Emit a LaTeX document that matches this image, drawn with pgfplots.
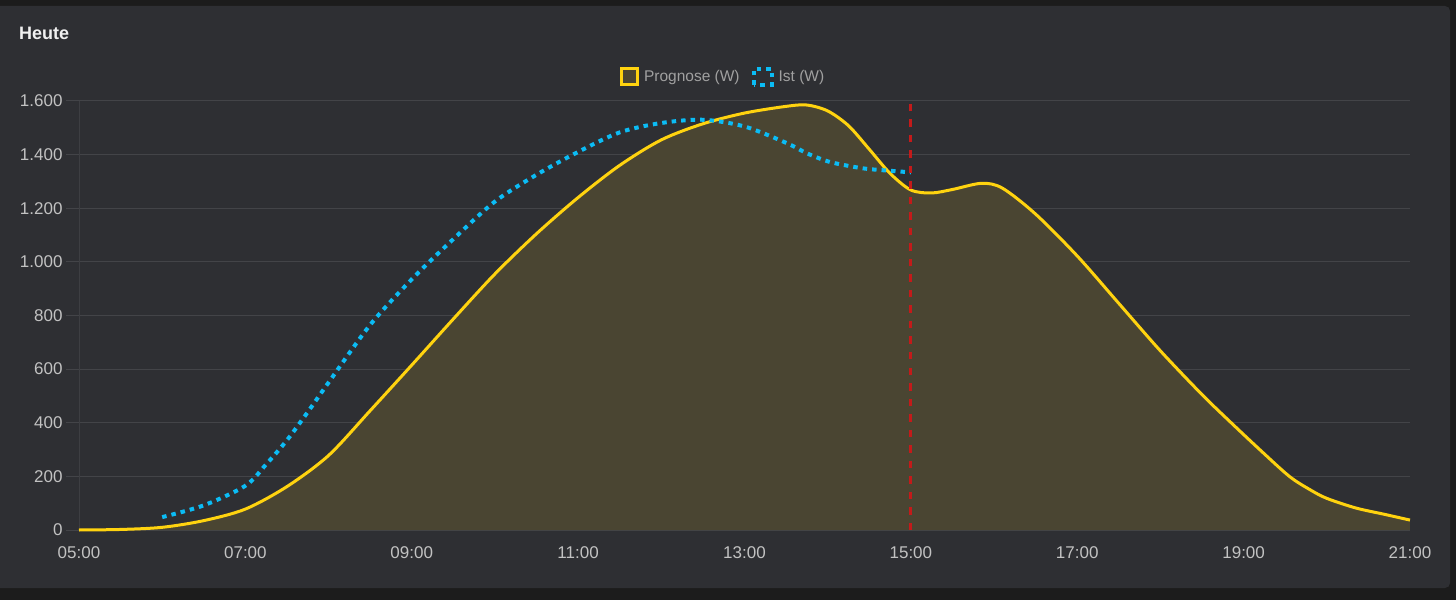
\documentclass[border=0pt]{standalone}
\usepackage{fontspec}
\setmainfont{Liberation Sans}
\usepackage{pgfplots}
\pgfplotsset{compat=1.18}
\usepackage{pgfplotstable}
\definecolor{outerc}{HTML}{1C1C1C}
\definecolor{panelc}{HTML}{2E2F33}
\definecolor{gridc}{HTML}{434448}
\definecolor{fillc}{HTML}{4A4532}
\definecolor{yellowc}{HTML}{FFD30F}
\definecolor{bluec}{HTML}{0BBCF5}
\definecolor{redc}{HTML}{C41A1A}
\definecolor{tickc}{HTML}{C2C2C2}
\definecolor{legc}{HTML}{A0A0A0}
\definecolor{titlec}{HTML}{F0F0F0}

\pgfplotstableread{
h v
5 0
5.5 2
6 10
6.5 35
7 78
7.5 162
8 278
8.5 445
9 615
9.5 787
10 955
10.5 1105
11 1240
11.5 1360
12 1455
12.5 1515
13 1555
13.5 1580
13.75 1585
14 1563
14.25 1508
14.5 1420
14.75 1330
15 1268
15.25 1257
15.5 1270
15.85 1293
16.1 1275
16.5 1178
17 1022
17.5 845
18 668
18.5 505
18.85 400
19.2 298
19.55 200
19.8 150
20 118
20.35 82
20.7 58
21 37
}\prognose

\pgfplotstableread{
h v
6 48
6.5 92
7 165
7.25 245
7.5 335
7.75 440
8 550
8.5 765
9 935
9.5 1085
10 1225
10.5 1325
11 1410
11.5 1483
12 1518
12.5 1530
13 1505
13.5 1444
13.75 1405
14 1375
14.25 1358
14.5 1346
15 1334
}\ist

\begin{document}
\begin{tikzpicture}[x=1pt,y=1pt]
\useasboundingbox (0,0) rectangle (1456,600);
\fill[outerc] (0,0) rectangle (1456,600);
\fill[panelc, rounded corners=5pt] (-10,12) rectangle (1450,594);
\node[anchor=base west, font=\fontsize{18}{20}\selectfont\bfseries, text=titlec, inner sep=0pt] at (19,560) {Heute};
\begin{axis}[
  at={(79pt,70pt)}, anchor=south west, scale only axis,
  width=1331pt, height=429pt,
  xmin=5, xmax=21, ymin=0, ymax=1600,
  clip=false,
  axis line style={draw=none},
  xtick={5,7,...,21},
  xticklabels={05:00,07:00,09:00,11:00,13:00,15:00,17:00,19:00,21:00},
  ytick={0,200,...,1600},
  yticklabels={0,200,400,600,800,{1.000},{1.200},{1.400},{1.600}},
  ytick pos=left,
  ymajorgrids, grid style={gridc, line width=1pt},
  x tick style={draw=none},
  y tick style={gridc, line width=1pt},
  tick align=outside, major tick length=13pt,
  /pgf/number format/assume math mode=true,
  tick label style={font=\fontsize{17}{20}\selectfont, text=tickc},
  legend style={at={(0.4838,1.056)}, anchor=center, draw=none, fill=none,
    font=\fontsize{15.5}{18}\selectfont, text=legc,
    /tikz/every even column/.append style={column sep=10pt}},
  legend columns=2,
  legend cell align=left,
]
\draw[color=gridc!70!panelc, line width=1pt] (axis cs:5,0) -- (axis cs:5,1600);
\addplot[fill=fillc, draw=none, smooth, forget plot] table[x=h,y=v]{\prognose} \closedcycle;
\addplot[yellowc, line width=3pt, smooth,
  legend image code/.code={\draw[line width=3pt, draw=yellowc, fill=fillc] (0pt,-8pt) rectangle (16pt,8pt); \path[draw=none,fill=none] (0pt,0pt) -- (21pt,0pt);}]
  table[x=h,y=v]{\prognose};
\addlegendentry{Prognose (W)}
\addplot[bluec, line width=4pt, smooth, dash pattern=on 4.5pt off 5pt,
  legend image code/.code={\draw[line width=4pt, draw=bluec, dash pattern=on 4.5pt off 5pt] (0pt,-8pt) rectangle (18pt,8pt); \path[draw=none,fill=none] (0pt,0pt) -- (23pt,0pt);}]
  table[x=h,y=v]{\ist};
\addlegendentry{Ist (W)}
\addplot[redc, line width=3pt, dash pattern=on 7.5pt off 8pt, forget plot] coordinates {(15,0) (15,1600)};
\end{axis}
\end{tikzpicture}
\end{document}
